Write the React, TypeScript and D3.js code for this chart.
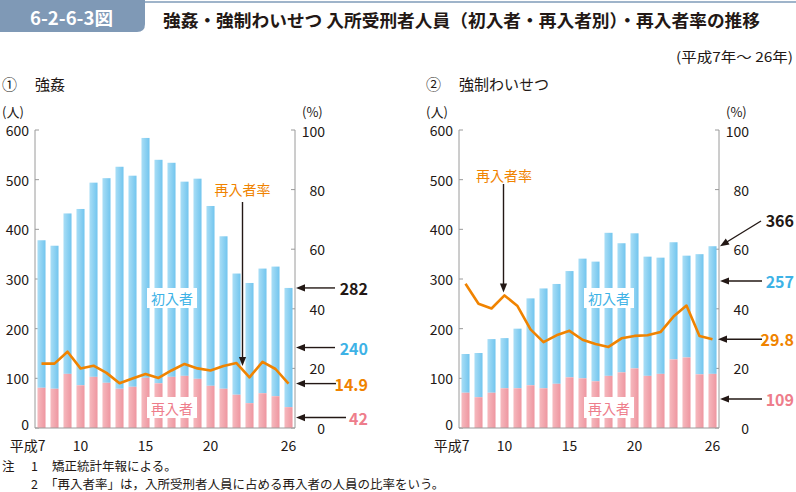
import React from "react";
import * as d3 from "d3";

const years = [7, 8, 9, 10, 11, 12, 13, 14, 15, 16, 17, 18, 19, 20, 21, 22, 23, 24, 25, 26];
const tickYears = [7, 10, 15, 20, 26];
const yTicks = [0, 100, 200, 300, 400, 500, 600];
const rTicks = [0, 20, 40, 60, 80, 100];

const rapeTotal = [378, 367, 432, 441, 494, 503, 526, 508, 584, 540, 534, 496, 502, 447, 386, 311, 292, 321, 325, 282];
const rapeRe = [81, 79, 109, 86, 103, 91, 79, 83, 101, 90, 103, 105, 99, 85, 79, 67, 50, 70, 64, 42];
const rapeRate = [21.6, 21.6, 25.6, 20.0, 20.9, 18.5, 15.0, 16.6, 18.1, 16.8, 19.3, 21.5, 20.0, 19.3, 20.8, 21.8, 17.0, 22.2, 19.8, 14.9];

const indTotal = [149, 151, 179, 181, 200, 261, 281, 290, 316, 341, 335, 393, 372, 392, 345, 343, 374, 347, 350, 366];
const indRe = [71, 62, 71, 80, 80, 86, 80, 89, 102, 100, 94, 105, 112, 120, 105, 109, 138, 142, 108, 109];
const indRate = [48.4, 41.7, 40.1, 44.5, 40.9, 33.1, 28.8, 31.1, 32.6, 29.6, 28.2, 27.2, 30.1, 30.9, 31.1, 32.2, 37.4, 41.1, 30.9, 29.8];

const FONT = "'Noto Sans CJK JP', 'Noto Sans', sans-serif";
const BLUE_T = "#3db2e6";
const PINK_T = "#ee7d8b";
const ORANGE = "#f08300";
const BLACK = "#231815";
const AXIS = "#9a9a9a";

const Y0 = 428;
const Y1 = 130;

function Arrow({ x1, y1, x2, y2 }: { x1: number; y1: number; x2: number; y2: number }) {
  const dx = x2 - x1, dy = y2 - y1;
  const len = Math.sqrt(dx * dx + dy * dy);
  const ux = dx / len, uy = dy / len;
  const hl = 9, hw = 3.6;
  const bx = x2 - ux * hl, by = y2 - uy * hl;
  const px = -uy, py = ux;
  return (
    <g>
      <line x1={x1} y1={y1} x2={bx + ux * 1} y2={by + uy * 1} stroke={BLACK} strokeWidth={1.4} />
      <polygon
        points={`${x2},${y2} ${bx + px * hw},${by + py * hw} ${bx - px * hw},${by - py * hw}`}
        fill={BLACK}
      />
    </g>
  );
}

type Ann = { text: string; color: string; ly: number; ax1: number; ay1: number; ax2: number; ay2: number };

function Panel(props: {
  x0: number;
  num: string;
  title: string;
  total: number[];
  re: number[];
  rate: number[];
  gid: string;
  rateLabel: { x: number; y: number; y1: number; tipIdx: number; xOff: number; tipY?: number };
  boxX: number;
  anns: Ann[];
  labelRight: number;
}) {
  const { x0, total, re, rate, gid } = props;
  const x1 = x0 + 260;
  const xs = d3.scaleBand<number>().domain(years).range([x0, x1]).paddingInner(0.38).paddingOuter(0.19);
  const ys = d3.scaleLinear().domain([0, 600]).range([Y0, Y1]);
  const rs = d3.scaleLinear().domain([0, 100]).range([Y0, Y1]);
  const bw = xs.bandwidth();
  const cx = (y: number) => (xs(y) as number) + bw / 2;
  const line = d3
    .line<number>()
    .x((_, i) => cx(years[i]))
    .y((d) => rs(d));

  const rl = props.rateLabel;
  const tipX = cx(years[rl.tipIdx]) + rl.xOff;
  const tipY = rl.tipY !== undefined ? rl.tipY : rs(rate[rl.tipIdx]) - 3;

  return (
    <g fontFamily={FONT}>
      <text x={x0 - 33} y={83} fontSize={15} fill={BLACK} dominantBaseline="central">
        {props.num}
      </text>
      <text x={x0} y={83} fontSize={15} fill={BLACK} dominantBaseline="central">
        {props.title}
      </text>
      <text x={x0 - 33} y={111} fontSize={13} fill={BLACK} dominantBaseline="central">
        (人)
      </text>
      <text x={x1 + 7} y={111} fontSize={13} fill={BLACK} dominantBaseline="central">
        (%)
      </text>
      {/* axes */}
      <line x1={x0} y1={Y1} x2={x0} y2={Y0} stroke={AXIS} strokeWidth={1} />
      <line x1={x1} y1={Y1} x2={x1} y2={Y0} stroke={AXIS} strokeWidth={1} />
      {yTicks.map((t) => (
        <g key={"y" + t}>
          <line x1={x0} x2={x0 + 4} y1={ys(t)} y2={ys(t)} stroke={AXIS} />
          <text x={x0 - 6} y={ys(t) + (t === 0 ? -4 : 0)} fontSize={14} textAnchor="end" dominantBaseline="central" fill={BLACK}>
            {t}
          </text>
        </g>
      ))}
      {rTicks.map((t) => (
        <g key={"r" + t}>
          <line x1={x1 - 4} x2={x1} y1={rs(t)} y2={rs(t)} stroke={AXIS} />
          <text x={x1 + 30} y={rs(t) + (t === 100 ? 1 : 0)} fontSize={14} textAnchor="end" dominantBaseline="central" fill={BLACK}>
            {t}
          </text>
        </g>
      ))}
      {/* bars */}
      {years.map((yr, i) => (
        <g key={"b" + yr}>
          <rect x={xs(yr)} y={ys(total[i])} width={bw} height={ys(re[i]) - ys(total[i])} fill={`url(#${gid}b)`} />
          <rect x={xs(yr)} y={ys(re[i])} width={bw} height={Y0 - ys(re[i])} fill={`url(#${gid}p)`} />
        </g>
      ))}
      <line x1={x0} y1={Y0} x2={x1} y2={Y0} stroke={AXIS} strokeWidth={1} />
      {/* x labels */}
      {tickYears.map((t) =>
        t === 7 ? (
          <text key={"x" + t} x={cx(t) + 4} y={444.5} fontSize={14} textAnchor="end" dominantBaseline="central" fill={BLACK}>
            平成7
          </text>
        ) : (
          <text key={"x" + t} x={cx(t)} y={444.5} fontSize={14} textAnchor="middle" dominantBaseline="central" fill={BLACK}>
            {t}
          </text>
        )
      )}
      {/* rate line */}
      <path d={line(rate) || ""} fill="none" stroke={ORANGE} strokeWidth={2.6} strokeLinejoin="round" />
      {/* series labels */}
      <rect x={x0 + props.boxX - 25} y={288} width={50} height={20} fill="#fff" />
      <text x={x0 + props.boxX} y={298} fontSize={14} textAnchor="middle" dominantBaseline="central" fill={BLUE_T}>
        初入者
      </text>
      <rect x={x0 + props.boxX - 25} y={397} width={50} height={21} fill="#fff" />
      <text x={x0 + props.boxX} y={407.5} fontSize={14} textAnchor="middle" dominantBaseline="central" fill={PINK_T}>
        再入者
      </text>
      {/* rate label */}
      <text x={rl.x} y={rl.y} fontSize={14} textAnchor="middle" dominantBaseline="central" fill={ORANGE}>
        再入者率
      </text>
      <Arrow x1={tipX} y1={rl.y1} x2={tipX} y2={tipY} />
      {/* annotations */}
      {props.anns.map((a, i) => (
        <g key={"a" + i}>
          <Arrow x1={a.ax1} y1={a.ay1} x2={a.ax2} y2={a.ay2} />
          <text x={props.labelRight} y={a.ly} fontSize={16} fontWeight="bold" textAnchor="end" dominantBaseline="central" fill={a.color}>
            {a.text}
          </text>
        </g>
      ))}
    </g>
  );
}

export default function App() {
  const ys = d3.scaleLinear().domain([0, 600]).range([Y0, Y1]);
  const rs = d3.scaleLinear().domain([0, 100]).range([Y0, Y1]);
  const n = years.length - 1;
  const lBlueMid = ys(rapeRe[n] + (rapeTotal[n] - rapeRe[n]) / 2);

  const leftAnns: Ann[] = [
    { text: String(rapeTotal[n]), color: BLACK, ly: ys(rapeTotal[n]), ax1: 335, ay1: ys(rapeTotal[n]), ax2: 296, ay2: ys(rapeTotal[n]) },
    { text: String(rapeTotal[n] - rapeRe[n]), color: BLUE_T, ly: lBlueMid, ax1: 335, ay1: lBlueMid, ax2: 296, ay2: lBlueMid },
    { text: String(rapeRate[n]), color: ORANGE, ly: rs(rapeRate[n]), ax1: 336, ay1: rs(rapeRate[n]), ax2: 296, ay2: rs(rapeRate[n]) },
    { text: String(rapeRe[n]), color: PINK_T, ly: ys(rapeRe[n] / 2), ax1: 346, ay1: ys(rapeRe[n] / 2), ax2: 296, ay2: ys(rapeRe[n] / 2) },
  ];
  const rightAnns: Ann[] = [
    { text: String(indTotal[n]), color: BLACK, ly: 220, ax1: 761, ay1: 221, ax2: 720, ay2: ys(indTotal[n]) },
    { text: String(indTotal[n] - indRe[n]), color: BLUE_T, ly: 281, ax1: 762, ay1: 281, ax2: 720, ay2: 281 },
    { text: String(indRate[n]), color: ORANGE, ly: rs(indRate[n]), ax1: 762, ay1: rs(indRate[n]), ax2: 718, ay2: rs(indRate[n]) },
    { text: String(indRe[n]), color: PINK_T, ly: 399, ax1: 762, ay1: 399, ax2: 720, ay2: 399 },
  ];

  return (
    <svg width={796} height={492} style={{ position: "absolute", left: 0, top: 0, background: "#fff" }}>
      <defs>
        {["L", "R"].map((g) => (
          <React.Fragment key={g}>
            <linearGradient id={g + "b"} x1="0" x2="1" y1="0" y2="0">
              <stop offset="0" stopColor="#a9def6" />
              <stop offset="1" stopColor="#72c5ee" />
            </linearGradient>
            <linearGradient id={g + "p"} x1="0" x2="1" y1="0" y2="0">
              <stop offset="0" stopColor="#f6b9be" />
              <stop offset="1" stopColor="#ee96a0" />
            </linearGradient>
          </React.Fragment>
        ))}
      </defs>
      <rect x={0} y={0} width={796} height={492} fill="#fff" />
      {/* header */}
      <rect x={0} y={1} width={796} height={2} fill="#9fb4ca" />
      <path d="M0,0 H145 V24 Q145,32 137,32 H0 Z" fill="#7f99b6" />
      <text x={30} y={17} fontFamily={FONT} fontSize={18} fontWeight="bold" fill="#fff" dominantBaseline="central" textLength={83} lengthAdjust="spacingAndGlyphs">
        6-2-6-3図
      </text>
      <text x={163} y={19} fontFamily={FONT} fontSize={17.5} fontWeight="bold" fill={BLACK} dominantBaseline="central" textLength={597} lengthAdjust="spacingAndGlyphs">
        強姦・強制わいせつ 入所受刑者人員（初入者・再入者別）・再入者率の推移
      </text>
      <text x={793} y={56} fontFamily={FONT} fontSize={13.5} fill={BLACK} textAnchor="end" dominantBaseline="central" textLength={117} lengthAdjust="spacingAndGlyphs">
        (平成7年～ 26年)
      </text>
      <Panel
        x0={35}
        num="①"
        title="強姦"
        total={rapeTotal}
        re={rapeRe}
        rate={rapeRate}
        gid="L"
        rateLabel={{ x: 242.5, y: 189, y1: 202, tipIdx: 15, xOff: 6, tipY: 366 }}
        boxX={137}
        anns={leftAnns}
        labelRight={368}
      />
      <Panel
        x0={459}
        num="②"
        title="強制わいせつ"
        total={indTotal}
        re={indRe}
        rate={indRate}
        gid="R"
        rateLabel={{ x: 504, y: 175, y1: 184, tipIdx: 3, xOff: -1 }}
        boxX={150}
        anns={rightAnns}
        labelRight={794}
      />
      <g fontFamily={FONT} fontSize={12.5} fill={BLACK}>
        <text x={2} y={465} dominantBaseline="central">注</text>
        <text x={31} y={465} dominantBaseline="central">1</text>
        <text x={52} y={465} dominantBaseline="central">矯正統計年報による。</text>
        <text x={31} y={483} dominantBaseline="central">2</text>
        <text x={45} y={483} dominantBaseline="central">「再入者率」は，入所受刑者人員に占める再入者の人員の比率をいう。</text>
      </g>
    </svg>
  );
}
